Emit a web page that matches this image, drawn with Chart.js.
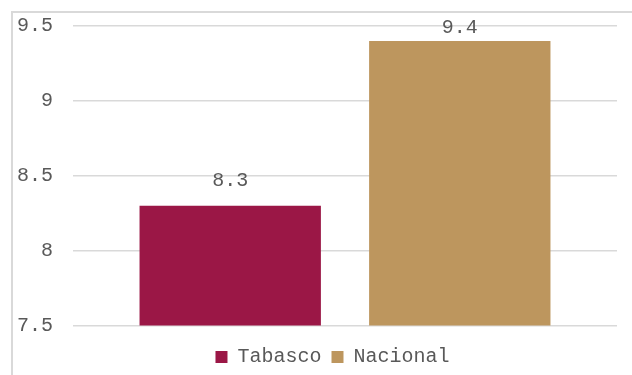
<!DOCTYPE html>
<html>
<head>
<meta charset="utf-8">
<script src="https://cdn.jsdelivr.net/npm/chart.js@4"></script>
<style>
	body { margin: 0; background: #fff; }
	#wrap { position: relative; width: 632px; height: 375px; overflow: hidden; }
	#frame { position: absolute; left: 11px; top: 11px; width: 700px; height: 500px; border: 2px solid #d9d9d9; pointer-events: none; }
	canvas { position: absolute; left: 0; top: 0; }
</style>
</head>
<body>
<div id="wrap">
	<canvas id="myChart" width="632" height="375"></canvas>
	<div id="frame"></div>
</div>
<script>
var categories = [''];
var seriesNames = ['Tabasco', 'Nacional'];
var tabascoValues = [8.3];
var nacionalValues = [9.4];
var yTicks = [7.5, 8, 8.5, 9, 9.5];

var textColor = '#595959';
var monoFont = "'Liberation Mono', 'Courier New', monospace";

// value labels drawn above each bar
var barLabels = {
	id: 'barLabels',
	afterLayout: function(chart) {
		// legend sits centred under the plot, not the whole canvas
		chart.legend.left += 24;
		chart.legend.right += 24;
	},
	afterDatasetsDraw: function(chart) {
		var ctx = chart.ctx;
		ctx.save();
		ctx.font = '20px ' + monoFont;
		ctx.fillStyle = textColor;
		ctx.textAlign = 'center';
		ctx.textBaseline = 'middle';
		chart.data.datasets.forEach(function(ds, i) {
			var meta = chart.getDatasetMeta(i);
			meta.data.forEach(function(bar, j) {
				var y = Math.max(bar.y - 24.5, chart.chartArea.top + 1.5);
				ctx.fillText(String(ds.data[j]), bar.x, y);
			});
		});
		ctx.restore();
	}
};

var ctx = document.getElementById('myChart').getContext('2d');
var chart = new Chart(ctx, {
	type: 'bar',
	data: {
		labels: categories,
		datasets: [{
			label: seriesNames[0],
			data: tabascoValues,
			backgroundColor: '#9b1746'
		}, {
			label: seriesNames[1],
			data: nacionalValues,
			backgroundColor: '#bd965e'
		}]
	},
	options: {
		responsive: false,
		animation: false,
		categoryPercentage: 0.844,
		barPercentage: 0.79,
		layout: {
			padding: { left: 0, right: 15, top: 26, bottom: -2 }
		},
		plugins: {
			legend: {
				position: 'bottom',
				labels: {
					boxWidth: 12,
					boxHeight: 12,
					padding: 10,
					color: textColor,
					font: { family: monoFont, size: 20 }
				}
			},
			tooltip: { enabled: false }
		},
		scales: {
			x: {
				ticks: { display: false },
				grid: { display: false },
				border: { display: false },
				afterFit: function(scale) { scale.height = 11.5; }
			},
			y: {
				min: 7.5,
				max: 9.5,
				afterBuildTicks: function(scale) {
					scale.ticks = yTicks.map(function(v) { return { value: v }; });
				},
				afterFit: function(scale) {
					scale.width = 73;
					scale.paddingTop = 0;
					scale.paddingBottom = 0;
				},
				ticks: {
					padding: 20,
					color: textColor,
					font: { family: monoFont, size: 20 },
					callback: function(v) { return String(v); }
				},
				grid: { color: '#d9d9d9', lineWidth: 1.5, drawTicks: false },
				border: { display: false }
			}
		}
	},
	plugins: [barLabels]
});
</script>
</body>
</html>
